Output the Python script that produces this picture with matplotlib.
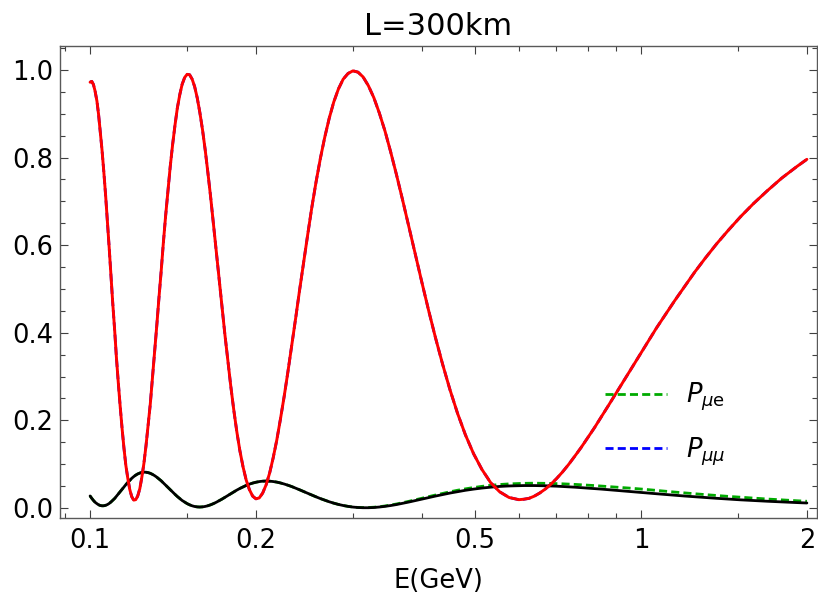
import matplotlib
matplotlib.use("Agg")
import matplotlib.pyplot as plt
from matplotlib.ticker import FixedLocator, NullFormatter, MultipleLocator

E = [0.1000, 0.1007, 0.1014, 0.1021, 0.1029, 0.1036, 0.1043, 0.1051, 0.1059, 0.1067,
     0.1075, 0.1083, 0.1091, 0.1099, 0.1108, 0.1116, 0.1125, 0.1134, 0.1143, 0.1152,
     0.1161, 0.1171, 0.1180, 0.1190, 0.1200, 0.1210,
     0.1220, 0.1231, 0.1241, 0.1252, 0.1263, 0.1274, 0.1286, 0.1297, 0.1309, 0.1321,
     0.1333, 0.1346, 0.1358, 0.1371, 0.1385, 0.1398, 0.1412, 0.1426, 0.1440, 0.1455,
     0.1469, 0.1485, 0.1500, 0.1516, 0.1532, 0.1548,
     0.1565, 0.1582, 0.1600, 0.1618, 0.1636, 0.1655, 0.1674, 0.1694, 0.1714, 0.1735,
     0.1756, 0.1778, 0.1800, 0.1823, 0.1846, 0.1870, 0.1895, 0.1920, 0.1946, 0.1973,
     0.2000, 0.2028, 0.2057, 0.2087, 0.2118, 0.2149,
     0.2182, 0.2215, 0.2250, 0.2286, 0.2323, 0.2361, 0.2400, 0.2441, 0.2483, 0.2526,
     0.2571, 0.2618, 0.2667, 0.2717, 0.2769, 0.2824, 0.2880, 0.2939, 0.3000, 0.3064,
     0.3130, 0.3200, 0.3273, 0.3349, 0.3429, 0.3512,
     0.3600, 0.3692, 0.3789, 0.3892, 0.4000, 0.4114, 0.4235, 0.4364, 0.4500, 0.4645,
     0.4800, 0.4966, 0.5143, 0.5333, 0.5538, 0.5760, 0.6000, 0.6128, 0.6261, 0.6400,
     0.6545, 0.6698, 0.6857, 0.7024, 0.7200, 0.7385,
     0.7579, 0.7784, 0.8000, 0.8229, 0.8471, 0.8727, 0.9000, 0.9290, 0.9600, 0.9931,
     1.0286, 1.0667, 1.1077, 1.1520, 1.2000, 1.2522, 1.3091, 1.3714, 1.4400, 1.5158,
     1.6000, 1.6941, 1.8000, 1.9200, 2.0000]

# P_mumu (red solid, blue dashed underneath)
P_mumu = [0.972, 0.974, 0.967, 0.952, 0.929, 0.899, 0.862, 0.818, 0.768, 0.714,
          0.656, 0.595, 0.533, 0.470, 0.407, 0.346, 0.287, 0.232, 0.182, 0.137,
          0.098, 0.067, 0.043, 0.026, 0.018, 0.019,
          0.027, 0.044, 0.069, 0.101, 0.141, 0.186, 0.237, 0.293, 0.352, 0.414,
          0.477, 0.541, 0.604, 0.666, 0.725, 0.780, 0.830, 0.874, 0.913, 0.944,
          0.967, 0.983, 0.990, 0.989, 0.979, 0.962,
          0.936, 0.903, 0.863, 0.817, 0.766, 0.710, 0.650, 0.588, 0.525, 0.461,
          0.398, 0.337, 0.279, 0.224, 0.175, 0.131, 0.094, 0.064, 0.042, 0.027,
          0.021, 0.023, 0.034, 0.053, 0.080, 0.114,
          0.155, 0.202, 0.254, 0.311, 0.371, 0.433, 0.497, 0.561, 0.624, 0.686,
          0.744, 0.798, 0.847, 0.890, 0.927, 0.957, 0.979, 0.992, 0.998, 0.995,
          0.984, 0.964, 0.937, 0.902, 0.861, 0.813,
          0.760, 0.703, 0.643, 0.580, 0.516, 0.452, 0.389, 0.328, 0.270, 0.216,
          0.167, 0.124, 0.088, 0.058, 0.037, 0.024, 0.019, 0.020, 0.022, 0.027,
          0.034, 0.043, 0.054, 0.067, 0.082, 0.099,
          0.118, 0.138, 0.160, 0.183, 0.208, 0.234, 0.261, 0.289, 0.318, 0.348,
          0.379, 0.411, 0.442, 0.474, 0.506, 0.539, 0.571, 0.603, 0.634, 0.665,
          0.695, 0.724, 0.753, 0.780, 0.796]

# P_mue, black solid
P_mue = [0.0275, 0.0221, 0.0173, 0.0132, 0.0099, 0.0074, 0.0058, 0.0050, 0.0051, 0.0061,
         0.0078, 0.0103, 0.0136, 0.0174, 0.0217, 0.0265, 0.0317, 0.0370, 0.0425, 0.0479,
         0.0533, 0.0584, 0.0633, 0.0677, 0.0716, 0.0750,
         0.0777, 0.0798, 0.0812, 0.0818, 0.0816, 0.0808, 0.0792, 0.0769, 0.0740, 0.0705,
         0.0665, 0.0621, 0.0573, 0.0522, 0.0470, 0.0417, 0.0364, 0.0312, 0.0262, 0.0216,
         0.0172, 0.0134, 0.0100, 0.0072, 0.0050, 0.0034,
         0.0025, 0.0022, 0.0026, 0.0036, 0.0051, 0.0073, 0.0099, 0.0130, 0.0165, 0.0202,
         0.0242, 0.0283, 0.0325, 0.0367, 0.0408, 0.0446, 0.0482, 0.0515, 0.0544, 0.0569,
         0.0588, 0.0603, 0.0612, 0.0615, 0.0612, 0.0604,
         0.0591, 0.0572, 0.0548, 0.0520, 0.0489, 0.0454, 0.0416, 0.0377, 0.0336, 0.0295,
         0.0255, 0.0215, 0.0178, 0.0142, 0.0110, 0.0081, 0.0057, 0.0037, 0.0021, 0.0011,
         0.0006, 0.0006, 0.0011, 0.0022, 0.0037, 0.0056,
         0.0079, 0.0106, 0.0136, 0.0168, 0.0202, 0.0237, 0.0272, 0.0307, 0.0341, 0.0373,
         0.0404, 0.0431, 0.0455, 0.0475, 0.0492, 0.0503, 0.0510, 0.0512, 0.0513, 0.0512,
         0.0510, 0.0507, 0.0503, 0.0498, 0.0491, 0.0484,
         0.0475, 0.0465, 0.0455, 0.0443, 0.0431, 0.0417, 0.0403, 0.0389, 0.0373, 0.0358,
         0.0341, 0.0325, 0.0308, 0.0290, 0.0273, 0.0256, 0.0238, 0.0221, 0.0203, 0.0186,
         0.0170, 0.0154, 0.0138, 0.0123, 0.0114]

# P_mue, green dashed (slightly above the black one at high E)
P_mue_dash = [0.0275, 0.0221, 0.0173, 0.0132, 0.0099, 0.0074, 0.0058, 0.0050, 0.0051, 0.0061,
              0.0078, 0.0103, 0.0136, 0.0174, 0.0217, 0.0265, 0.0317, 0.0370, 0.0425, 0.0479,
              0.0533, 0.0584, 0.0633, 0.0677, 0.0716, 0.0750,
              0.0777, 0.0798, 0.0812, 0.0818, 0.0816, 0.0808, 0.0792, 0.0769, 0.0740, 0.0705,
              0.0665, 0.0621, 0.0573, 0.0522, 0.0470, 0.0417, 0.0364, 0.0312, 0.0262, 0.0216,
              0.0172, 0.0134, 0.0100, 0.0072, 0.0050, 0.0034,
              0.0025, 0.0022, 0.0026, 0.0036, 0.0051, 0.0073, 0.0099, 0.0130, 0.0165, 0.0202,
              0.0242, 0.0283, 0.0325, 0.0367, 0.0408, 0.0446, 0.0482, 0.0515, 0.0544, 0.0569,
              0.0588, 0.0603, 0.0612, 0.0615, 0.0612, 0.0604,
              0.0591, 0.0572, 0.0548, 0.0520, 0.0489, 0.0454, 0.0416, 0.0377, 0.0336, 0.0295,
              0.0255, 0.0215, 0.0178, 0.0142, 0.0110, 0.0081, 0.0057, 0.0037, 0.0021, 0.0013,
              0.0009, 0.0011, 0.0018, 0.0029, 0.0046, 0.0067,
              0.0092, 0.0121, 0.0152, 0.0186, 0.0222, 0.0259, 0.0296, 0.0333, 0.0370, 0.0405,
              0.0437, 0.0467, 0.0494, 0.0517, 0.0536, 0.0550, 0.0560, 0.0563, 0.0565, 0.0566,
              0.0565, 0.0564, 0.0561, 0.0557, 0.0552, 0.0546,
              0.0539, 0.0531, 0.0522, 0.0512, 0.0501, 0.0489, 0.0477, 0.0464, 0.0451, 0.0437,
              0.0420, 0.0401, 0.0383, 0.0363, 0.0344, 0.0324, 0.0305, 0.0285, 0.0265, 0.0246,
              0.0225, 0.0205, 0.0185, 0.0165, 0.0154]

x_major = [0.1, 0.2, 0.5, 1, 2]
x_major_labels = ["0.1", "0.2", "0.5", "1", "2"]
x_minor = [0.09, 0.15, 0.3, 0.4, 0.6, 0.7, 0.8, 0.9, 1.5]
y_major = [0.0, 0.2, 0.4, 0.6, 0.8, 1.0]

fig = plt.figure(figsize=(8.18, 6.0), dpi=100)
ax = fig.add_axes([0.0734, 0.1367, 0.9254, 0.7867])

dash = (0, (2.9, 1.5))
ax.plot(E, P_mue_dash, color="#00aa00", lw=2.0, ls=dash, label=r"$P_{\mu\mathrm{e}}$")
ax.plot(E, P_mumu, color="#0000ff", lw=2.0, ls=dash, label=r"$P_{\mu\mu}$")
ax.plot(E, P_mue, color="black", lw=2.0, solid_capstyle="round", solid_joinstyle="round")
ax.plot(E, P_mumu, color="#ff0000", lw=2.1, solid_capstyle="round", solid_joinstyle="round")

ax.set_xscale("log")
ax.set_xlim(0.0882, 2.0865)
ax.set_ylim(-0.0228, 1.0548)
ax.xaxis.set_major_locator(FixedLocator(x_major))
ax.set_xticklabels(x_major_labels)
ax.xaxis.set_minor_locator(FixedLocator(x_minor))
ax.xaxis.set_minor_formatter(NullFormatter())
ax.set_yticks(y_major)
ax.set_yticklabels([f"{v:.1f}" for v in y_major])
ax.yaxis.set_minor_locator(MultipleLocator(0.05))

ax.tick_params(which="both", direction="in", top=True, right=True, width=0.8, color="0.25")
ax.tick_params(which="major", length=5.8, labelsize=18.5)
ax.tick_params(which="minor", length=3.3)
ax.tick_params(axis="x", which="major", pad=7)
ax.tick_params(axis="y", which="major", pad=5)
for s in ax.spines.values():
    s.set_color("0.35")
    s.set_linewidth(1.0)

ax.set_title("L=300km", fontsize=22, pad=8)
ax.set_xlabel("E(GeV)", fontsize=18.5, labelpad=10)

ax.legend(loc="upper left", bbox_to_anchor=(0.72, 0.29), frameon=False, fontsize=18.5,
          handlelength=2.4, handletextpad=0.75, labelspacing=0.85,
          borderpad=0, borderaxespad=0)

fig.savefig("out.png")
